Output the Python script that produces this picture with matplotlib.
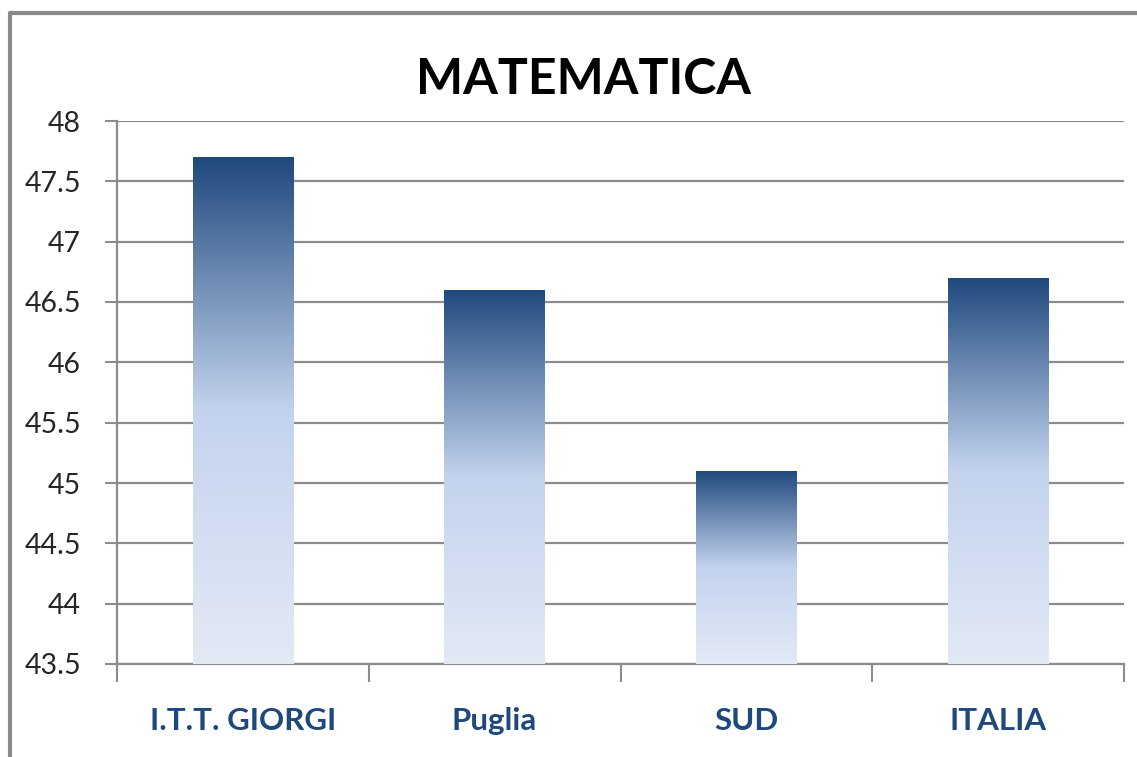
import matplotlib.pyplot as plt
import numpy as np
from matplotlib.colors import LinearSegmentedColormap
from matplotlib.lines import Line2D

categories = ["I.T.T. GIORGI", "Puglia", "SUD", "ITALIA"]
values = [47.7, 46.6, 45.1, 46.7]
y_ticks = [43.5, 44, 44.5, 45, 45.5, 46, 46.5, 47, 47.5, 48]

plt.rcParams['font.family'] = ['Lato', 'DejaVu Sans']

fig = plt.figure(figsize=(11.37, 7.57), dpi=100)
ax = fig.add_axes([117 / 1137, 1 - 664 / 757, (1124 - 117) / 1137, (664 - 121) / 757])

# cornice grigia del grafico (solo alto e sinistra visibili)
fx, fy = 10 / 1137, 1 - 13 / 757
fig.lines.append(Line2D([fx, fx, 1.01], [-0.01, fy, fy], transform=fig.transFigure,
                        color="#8a8a8a", linewidth=3))

x = np.arange(len(categories))
bars = ax.bar(x, values, width=0.4, color="none", zorder=3)

# sfumatura verticale: scuro in alto, chiaro in basso
cmap = LinearSegmentedColormap.from_list(
    "grad", [(0.0, "#1f497d"), (0.5, "#c3d3ee"), (1.0, "#e3e9f5")])
grad = np.linspace(0, 1, 256).reshape(-1, 1)
ymin = 43.5
for b, v in zip(bars, values):
    x0 = b.get_x()
    im = ax.imshow(grad, cmap=cmap, aspect="auto", origin="upper",
                   extent=[x0, x0 + b.get_width(), ymin, v], zorder=3)
    im.set_clip_path(b)

ax.set_xlim(-0.5, len(categories) - 0.5)
ax.set_ylim(43.5, 48)
ax.set_yticks(y_ticks)
ax.set_yticklabels([f"{t:g}" for t in y_ticks], fontsize=20.5, color="#262626")
ax.yaxis.grid(True, color="#8c8c8c", linewidth=1.6, zorder=0)
ax.set_axisbelow(True)

ax.set_xticks(x)
ax.set_xticklabels(categories, fontsize=22.5, fontweight="bold", color="#1f497d")
ax.tick_params(axis="x", length=0, pad=31)
ax.set_xticks(np.arange(len(categories) + 1) - 0.5, minor=True)
ax.tick_params(axis="x", which="minor", length=13, width=1.5, color="#8c8c8c")
ax.tick_params(axis="y", length=9, width=1.5, color="#8c8c8c", pad=17)

for s in ["top", "right"]:
    ax.spines[s].set_visible(False)
for s in ["left", "bottom"]:
    ax.spines[s].set_color("#8c8c8c")
    ax.spines[s].set_linewidth(1.6)

fig.text(583 / 1137, 1 - 80 / 757, "MATEMATICA", fontsize=36, fontweight="bold",
         ha="center", va="center", color="black")

fig.savefig("out.png", dpi=100)
